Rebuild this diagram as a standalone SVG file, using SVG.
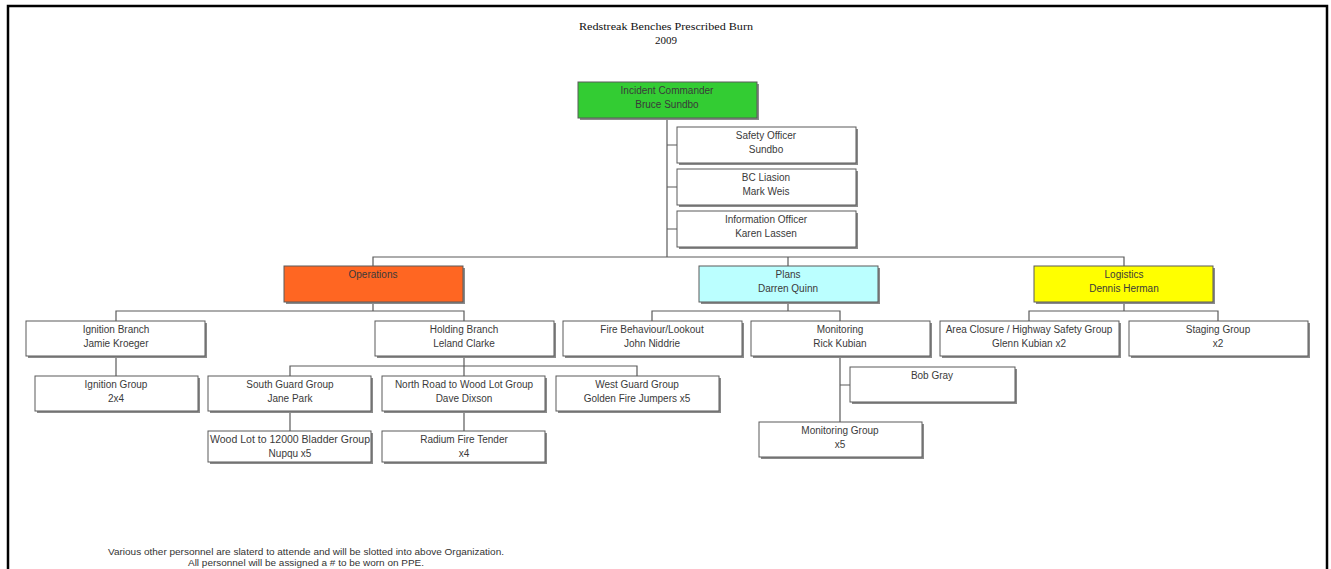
<svg xmlns="http://www.w3.org/2000/svg" width="1331" height="569" viewBox="0 0 1331 569">
<style>
.b{fill:#fff;stroke:#5a5a5a;stroke-width:1}
.s{fill:#8a8a8a}
.t{font-family:"Liberation Sans",Arial,sans-serif;font-size:10px;fill:#3a3a3a;text-anchor:middle}
.c{fill:none;stroke:#5a5a5a;stroke-width:1.2}
.ti{font-family:"Liberation Serif","Times New Roman",serif;font-size:11px;fill:#111;text-anchor:middle}
.n{font-family:"Liberation Sans",Arial,sans-serif;font-size:9.5px;fill:#333;text-anchor:middle}
</style>
<rect x="0" y="0" width="1331" height="569" fill="#fff"/>
<path d="M8,575 V6 H1327 V575" fill="none" stroke="#000" stroke-width="2.5"/>
<g id="title">
<text class="ti" x="666" y="30" textLength="174" lengthAdjust="spacingAndGlyphs">Redstreak Benches Prescribed Burn</text>
<text class="ti" x="666" y="44">2009</text>
</g>
<g id="connectors">
<path class="c" d="M667,118 V257 M667,145 H677 M667,187 H677 M667,229 H677"/>
<path class="c" d="M373,266 V257 H1124 V266 M788,257 V266"/>
<path class="c" d="M373,302 V311 M116,321 V311 H464 V321"/>
<path class="c" d="M788,302 V311 M652,321 V311 H840 V321"/>
<path class="c" d="M1124,302 V311 M1029,321 V311 H1218 V321"/>
<path class="c" d="M116,356 V376"/>
<path class="c" d="M464,356 V376 M290,376 V366 H637 V376"/>
<path class="c" d="M290,411 V431 M464,411 V431"/>
<path class="c" d="M840,356 V422 M840,385 H850"/>
</g>
<g id="ic"><rect class="s" x="580" y="84" width="179" height="36"/><rect class="b" x="578" y="82" width="179" height="36" fill="#33cc33" style="fill:#33cc33"/><text class="t" x="667" y="94">Incident Commander</text><text class="t" x="667" y="108">Bruce Sundbo</text></g>
<g id="safety"><rect class="s" x="679" y="129" width="179" height="36"/><rect class="b" x="677" y="127" width="179" height="36"/><text class="t" x="766" y="139">Safety Officer</text><text class="t" x="766" y="153">Sundbo</text></g>
<g id="bc"><rect class="s" x="679" y="171" width="179" height="36"/><rect class="b" x="677" y="169" width="179" height="36"/><text class="t" x="766" y="181">BC Liasion</text><text class="t" x="766" y="195">Mark Weis</text></g>
<g id="info"><rect class="s" x="679" y="213" width="179" height="36"/><rect class="b" x="677" y="211" width="179" height="36"/><text class="t" x="766" y="223">Information Officer</text><text class="t" x="766" y="237">Karen Lassen</text></g>
<g id="ops"><rect class="s" x="286" y="268" width="179" height="36"/><rect class="b" x="284" y="266" width="179" height="36" style="fill:#ff6622"/><text class="t" x="373" y="278">Operations</text></g>
<g id="plans"><rect class="s" x="701" y="268" width="179" height="36"/><rect class="b" x="699" y="266" width="179" height="36" style="fill:#bbffff"/><text class="t" x="788" y="278">Plans</text><text class="t" x="788" y="292">Darren Quinn</text></g>
<g id="logistics"><rect class="s" x="1036" y="268" width="179" height="36"/><rect class="b" x="1034" y="266" width="179" height="36" style="fill:#ffff00"/><text class="t" x="1124" y="278">Logistics</text><text class="t" x="1124" y="292">Dennis Herman</text></g>
<g id="ignition-branch"><rect class="s" x="28" y="323" width="179" height="35"/><rect class="b" x="26" y="321" width="179" height="35"/><text class="t" x="116" y="333">Ignition Branch</text><text class="t" x="116" y="347">Jamie Kroeger</text></g>
<g id="holding-branch"><rect class="s" x="377" y="323" width="179" height="35"/><rect class="b" x="375" y="321" width="179" height="35"/><text class="t" x="464" y="333">Holding Branch</text><text class="t" x="464" y="347">Leland Clarke</text></g>
<g id="fire-behaviour"><rect class="s" x="565" y="323" width="179" height="35"/><rect class="b" x="563" y="321" width="179" height="35"/><text class="t" x="652" y="333">Fire Behaviour/Lookout</text><text class="t" x="652" y="347">John Niddrie</text></g>
<g id="monitoring"><rect class="s" x="753" y="323" width="179" height="35"/><rect class="b" x="751" y="321" width="179" height="35"/><text class="t" x="840" y="333">Monitoring</text><text class="t" x="840" y="347">Rick Kubian</text></g>
<g id="area-closure"><rect class="s" x="942" y="323" width="179" height="35"/><rect class="b" x="940" y="321" width="179" height="35"/><text class="t" x="1029" y="333">Area Closure / Highway Safety Group</text><text class="t" x="1029" y="347">Glenn Kubian x2</text></g>
<g id="staging"><rect class="s" x="1131" y="323" width="179" height="35"/><rect class="b" x="1129" y="321" width="179" height="35"/><text class="t" x="1218" y="333">Staging Group</text><text class="t" x="1218" y="347">x2</text></g>
<g id="ignition-group"><rect class="s" x="37" y="378" width="163" height="35"/><rect class="b" x="35" y="376" width="163" height="35"/><text class="t" x="116" y="388">Ignition Group</text><text class="t" x="116" y="402">2x4</text></g>
<g id="south-guard"><rect class="s" x="210" y="378" width="163" height="35"/><rect class="b" x="208" y="376" width="163" height="35"/><text class="t" x="290" y="388">South Guard Group</text><text class="t" x="290" y="402">Jane Park</text></g>
<g id="north-road"><rect class="s" x="384" y="378" width="163" height="35"/><rect class="b" x="382" y="376" width="163" height="35"/><text class="t" x="464" y="388">North Road to Wood Lot Group</text><text class="t" x="464" y="402">Dave Dixson</text></g>
<g id="west-guard"><rect class="s" x="558" y="378" width="163" height="35"/><rect class="b" x="556" y="376" width="163" height="35"/><text class="t" x="637" y="388">West Guard Group</text><text class="t" x="637" y="402">Golden Fire Jumpers x5</text></g>
<g id="bob-gray"><rect class="s" x="852" y="369" width="165" height="35"/><rect class="b" x="850" y="367" width="165" height="35"/><text class="t" x="932" y="379">Bob Gray</text></g>
<g id="wood-lot"><rect class="s" x="210" y="433" width="163" height="31"/><rect class="b" x="208" y="431" width="163" height="31"/><text class="t" x="290" y="443" textLength="160" lengthAdjust="spacingAndGlyphs">Wood Lot to 12000 Bladder Group</text><text class="t" x="290" y="457">Nupqu x5</text></g>
<g id="radium"><rect class="s" x="384" y="433" width="163" height="31"/><rect class="b" x="382" y="431" width="163" height="31"/><text class="t" x="464" y="443">Radium Fire Tender</text><text class="t" x="464" y="457">x4</text></g>
<g id="monitoring-group"><rect class="s" x="761" y="424" width="163" height="35"/><rect class="b" x="759" y="422" width="163" height="35"/><text class="t" x="840" y="434">Monitoring Group</text><text class="t" x="840" y="448">x5</text></g>
<g id="notes">
<text class="n" x="306" y="555" textLength="396" lengthAdjust="spacingAndGlyphs">Various other personnel are slaterd to attende and will be slotted into above Organization.</text>
<text class="n" x="306" y="566" textLength="236" lengthAdjust="spacingAndGlyphs">All personnel will be assigned a # to be worn on PPE.</text>
</g>
</svg>
